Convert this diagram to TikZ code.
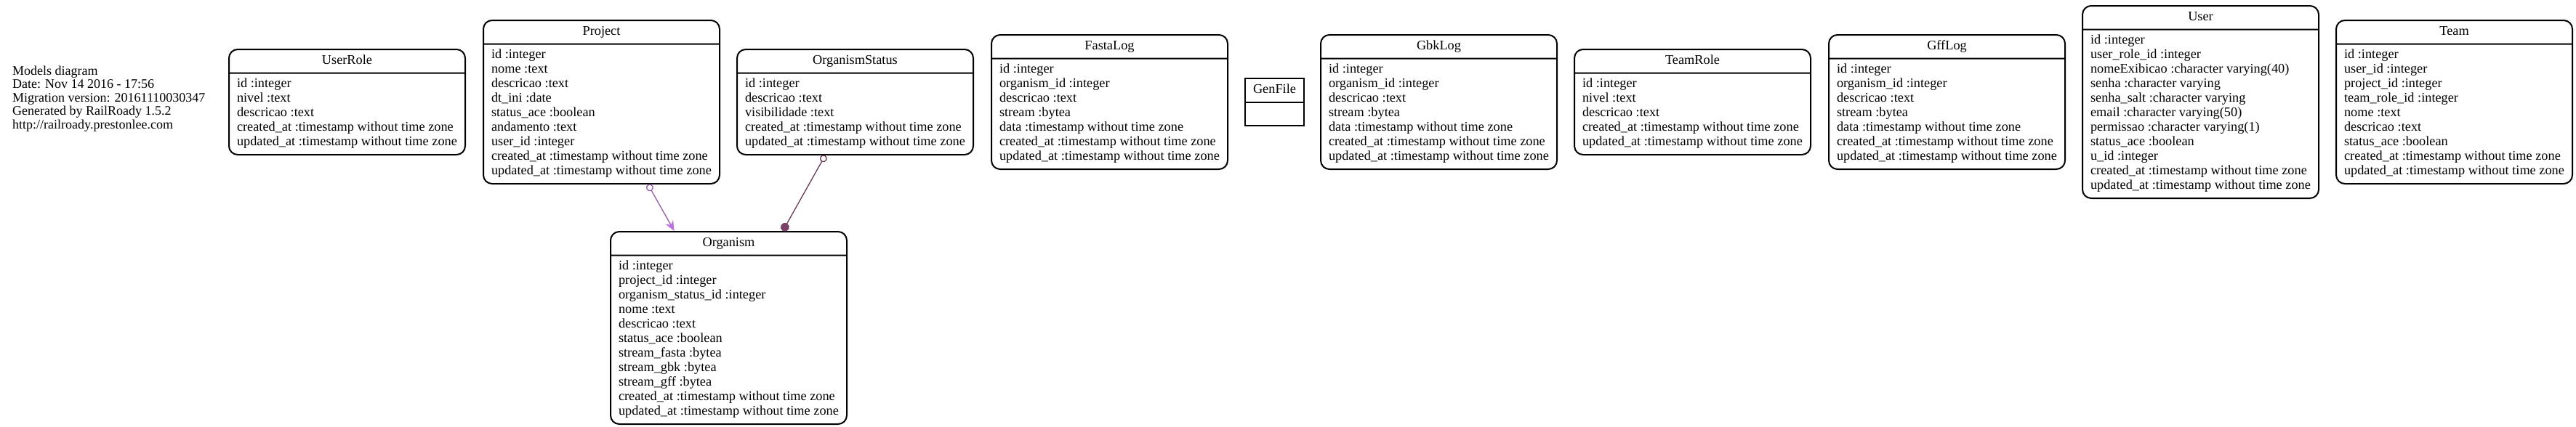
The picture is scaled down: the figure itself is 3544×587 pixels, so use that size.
\documentclass[tikz,border=0pt]{standalone}
\usepackage{fontspec}
\setmainfont{Liberation Serif}
\usepackage{tikz}
\usetikzlibrary{arrows.meta,shapes.multipart}
\definecolor{projlink}{RGB}{150,92,180}
\definecolor{projhead}{RGB}{192,112,230}
\definecolor{statuslink}{RGB}{108,56,86}
\definecolor{statusdot}{RGB}{122,66,100}
\newcommand{\attrs}[1]{\begin{tabular}{@{}l@{}}#1\end{tabular}}

\begin{document}
\begin{tikzpicture}[x=1pt, y=-1pt, >=Stealth,
  every node/.style={font=\fontsize{18.3}{20}\selectfont},
  model/.style={rectangle split, rectangle split parts=2,
    rectangle split part align={center,left}, draw, line width=2pt,
    rounded corners=12pt, inner xsep=11pt, inner ysep=5.25pt,
    minimum width=325pt, anchor=north west},
  link/.style={line width=1.3pt}]
  \useasboundingbox (0,0) rectangle (3544,587);

  % Header text
  \node[anchor=west, align=left, inner sep=0pt, font=\fontsize{18}{18.5}\selectfont] (info) at (17,136) {Models diagram\\
    Date: Nov 14 2016 - 17:56\\
    Migration version: 20161110030347\\
    Generated by RailRoady 1.5.2\\
    http://railroady.prestonlee.com};

  % Models
  \node[model] (UserRole) at (314,67) {UserRole\strut
    \nodepart{two}\attrs{id :integer\\ nivel :text\\ descricao :text\\
      created\_at :timestamp without time zone\\
      updated\_at :timestamp without time zone}};

  \node[model] (Project) at (664,27) {Project\strut
    \nodepart{two}\attrs{id :integer\\ nome :text\\ descricao :text\\ dt\_ini :date\\
      status\_ace :boolean\\ andamento :text\\ user\_id :integer\\
      created\_at :timestamp without time zone\\
      updated\_at :timestamp without time zone}};

  \node[model] (OrganismStatus) at (1013,67) {OrganismStatus\strut
    \nodepart{two}\attrs{id :integer\\ descricao :text\\ visibilidade :text\\
      created\_at :timestamp without time zone\\
      updated\_at :timestamp without time zone}};

  \node[model] (Organism) at (839,318) {Organism\strut
    \nodepart{two}\attrs{id :integer\\ project\_id :integer\\ organism\_status\_id :integer\\
      nome :text\\ descricao :text\\ status\_ace :boolean\\ stream\_fasta :bytea\\
      stream\_gbk :bytea\\ stream\_gff :bytea\\
      created\_at :timestamp without time zone\\
      updated\_at :timestamp without time zone}};

  \node[model] (FastaLog) at (1363,47) {FastaLog\strut
    \nodepart{two}\attrs{id :integer\\ organism\_id :integer\\ descricao :text\\
      stream :bytea\\ data :timestamp without time zone\\
      created\_at :timestamp without time zone\\
      updated\_at :timestamp without time zone}};

  \node[model, rounded corners=0pt, minimum width=80pt] (GenFile) at (1712,107) {GenFile\strut
    \nodepart{two}\strut};

  \node[model] (GbkLog) at (1816,47) {GbkLog\strut
    \nodepart{two}\attrs{id :integer\\ organism\_id :integer\\ descricao :text\\
      stream :bytea\\ data :timestamp without time zone\\
      created\_at :timestamp without time zone\\
      updated\_at :timestamp without time zone}};

  \node[model] (TeamRole) at (2165,67) {TeamRole\strut
    \nodepart{two}\attrs{id :integer\\ nivel :text\\ descricao :text\\
      created\_at :timestamp without time zone\\
      updated\_at :timestamp without time zone}};

  \node[model] (GffLog) at (2515,47) {GffLog\strut
    \nodepart{two}\attrs{id :integer\\ organism\_id :integer\\ descricao :text\\
      stream :bytea\\ data :timestamp without time zone\\
      created\_at :timestamp without time zone\\
      updated\_at :timestamp without time zone}};

  \node[model] (User) at (2864,7) {User\strut
    \nodepart{two}\attrs{id :integer\\ user\_role\_id :integer\\
      nomeExibicao :character varying(40)\\ senha :character varying\\
      senha\_salt :character varying\\ email :character varying(50)\\
      permissao :character varying(1)\\ status\_ace :boolean\\ u\_id :integer\\
      created\_at :timestamp without time zone\\
      updated\_at :timestamp without time zone}};

  \node[model] (Team) at (3213,27) {Team\strut
    \nodepart{two}\attrs{id :integer\\ user\_id :integer\\ project\_id :integer\\
      team\_role\_id :integer\\ nome :text\\ descricao :text\\ status\_ace :boolean\\
      created\_at :timestamp without time zone\\
      updated\_at :timestamp without time zone}};

  % Associations
  \draw[link, projlink, {Circle[open,length=10pt]}-{Stealth[length=14pt,width=12pt,color=projhead]}] (Project) -- (Organism);
  \draw[link, statuslink, {Circle[open,length=10pt]}-{Circle[length=12pt,color=statusdot]}] (OrganismStatus) -- (Organism);
\end{tikzpicture}
\end{document}
